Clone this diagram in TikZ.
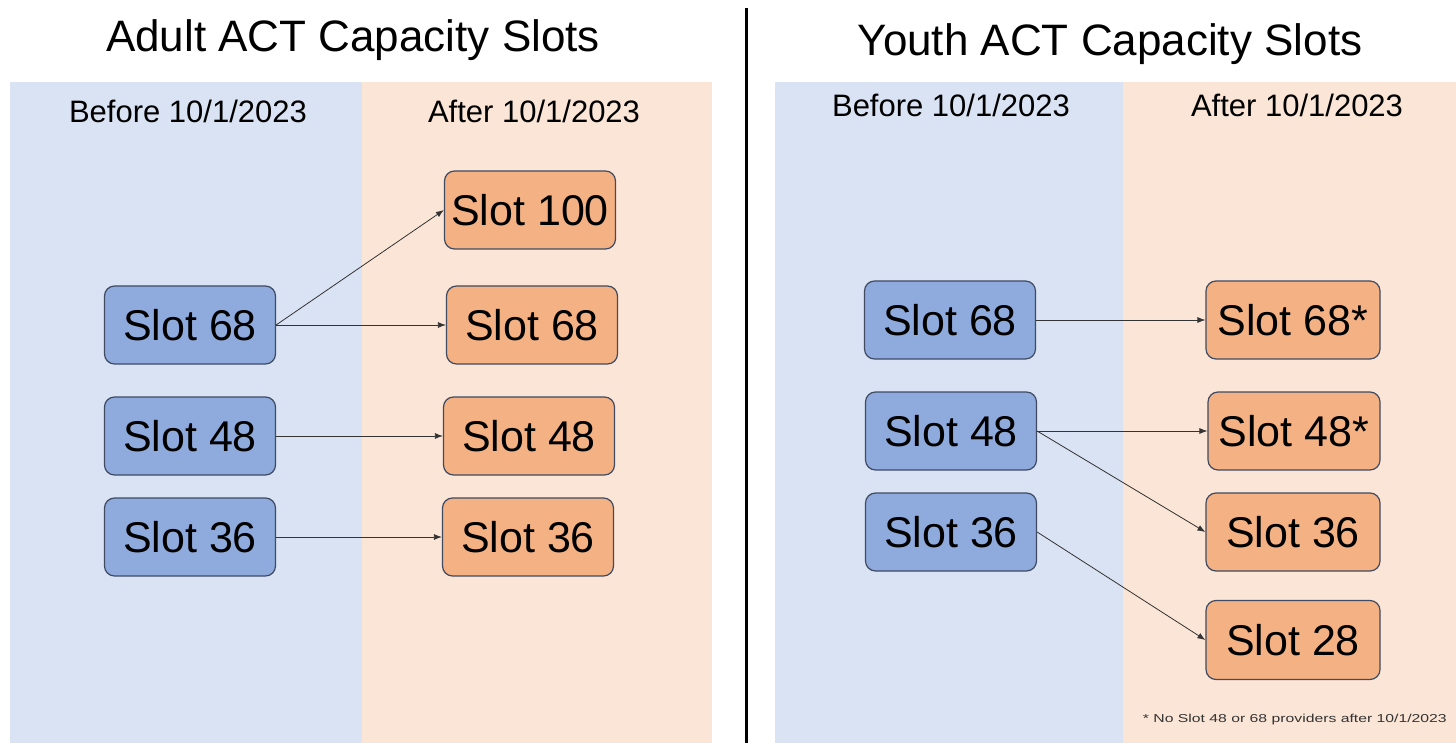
\documentclass[tikz,border=0pt]{standalone}
\usepackage{fontspec}
\setmainfont{Liberation Sans}
\usetikzlibrary{arrows.meta}
\definecolor{bgblue}{HTML}{DAE3F3}
\definecolor{bgorange}{HTML}{FBE5D6}
\definecolor{boxblue}{HTML}{8FAADC}
\definecolor{boxorange}{HTML}{F4B183}
\definecolor{boxline}{HTML}{3E4B63}
\definecolor{arrowline}{HTML}{333333}
\definecolor{notegray}{HTML}{333333}
\tikzset{
  slotbox/.style={draw=boxline, line width=1.2pt, rounded corners=10pt, inner sep=0pt,
    minimum width=171pt, minimum height=78pt, font=\fontsize{43}{47}\selectfont},
  beforebox/.style={slotbox, fill=boxblue},
  afterbox/.style={slotbox, fill=boxorange},
  conn/.style={draw=arrowline, line width=0.8pt, -{Latex[length=8pt,width=6pt]}},
  titletext/.style={font=\fontsize{44}{48}\selectfont},
  headtext/.style={font=\fontsize{31}{34}\selectfont},
}
\begin{document}
\begin{tikzpicture}[x=1pt,y=-1pt]
\useasboundingbox (0,0) rectangle (1456,743);
\fill[white] (0,0) rectangle (1456,743);
% backgrounds
\fill[bgblue] (10,82) rectangle (362,743);
\fill[bgorange] (362,82) rectangle (712,743);
\fill[bgblue] (775,82) rectangle (1123,743);
\fill[bgorange] (1123,82) rectangle (1456,743);
% divider
\draw[line width=3pt, black] (746,8) -- (746,743);
% titles
\node[titletext] (tl) at (353,40) {Adult ACT Capacity Slots};
\node[titletext] (tr) at (1110,44) {Youth ACT Capacity Slots};
% headers
\node[headtext] (hlb) at (188,111) {Before 10/1/2023};
\node[headtext] (hla) at (534,111) {After 10/1/2023};
\node[headtext] (hrb) at (951,105) {Before 10/1/2023};
\node[headtext] (hra) at (1297,105) {After 10/1/2023};
% left boxes
\node[beforebox] (l68) at (190,325) {Slot 68};
\node[beforebox] (l48) at (190,436) {Slot 48};
\node[beforebox] (l36) at (190,537) {Slot 36};
\node[afterbox] (la100) at (530,210) {Slot 100};
\node[afterbox] (la68) at (532,325) {Slot 68};
\node[afterbox] (la48) at (529,436) {Slot 48};
\node[afterbox] (la36) at (528,537) {Slot 36};
% right boxes
\node[beforebox] (r68) at (950,320) {Slot 68};
\node[beforebox] (r48) at (951,431) {Slot 48};
\node[beforebox] (r36) at (951,532) {Slot 36};
\node[afterbox, minimum width=174pt] (ra68) at (1293,320) {Slot 68*};
\node[afterbox, minimum width=172pt] (ra48) at (1294,431) {Slot 48*};
\node[afterbox, minimum width=174pt] (ra36) at (1293,532) {Slot 36};
\node[afterbox, minimum width=174pt, minimum height=79pt] (ra28) at (1293,640) {Slot 28};
% arrows
\draw[conn] (l68.east) -- (la100.west);
\draw[conn] (l68.east) -- (la68.west);
\draw[conn] (l48.east) -- (la48.west);
\draw[conn] (l36.east) -- (la36.west);
\draw[conn] (r68.east) -- (ra68.west);
\draw[conn] (r48.east) -- (ra48.west);
\draw[conn] (r48.east) -- (ra36.west);
\draw[conn] (r36.east) -- (ra28.west);
% footnote
\node[font=\fontsize{11.5}{13}\selectfont, text=notegray, anchor=east, inner sep=0pt] (note) at (1447,720) {\scalebox{1.37}[1]{* No Slot 48 or 68 providers after 10/1/2023}};
\end{tikzpicture}
\end{document}
